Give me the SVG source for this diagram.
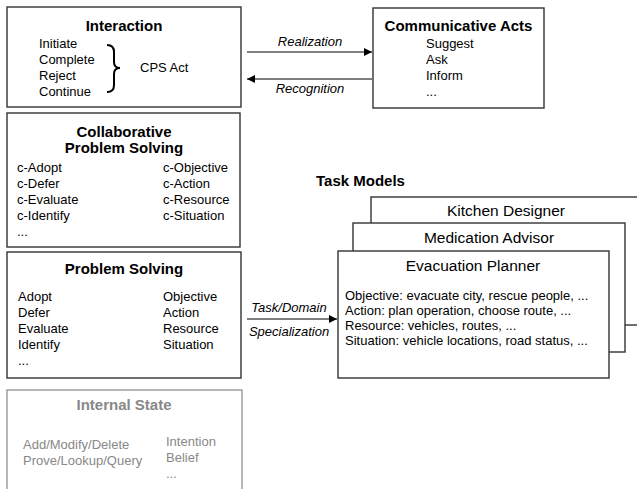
<svg xmlns="http://www.w3.org/2000/svg" width="637" height="489" viewBox="0 0 637 489">
<style>
.box{fill:#fff;stroke:#333;stroke-width:1.4}
.gbox{fill:#fff;stroke:#999;stroke-width:1.4}
.t{font-family:"Liberation Sans",Arial,sans-serif;font-size:13px;fill:#000}
.b{font-family:"Liberation Sans",Arial,sans-serif;font-size:15px;font-weight:bold;fill:#000}
.m{font-family:"Liberation Sans",Arial,sans-serif;font-size:15.5px;fill:#000}
.i{font-family:"Liberation Sans",Arial,sans-serif;font-size:13px;font-style:italic;fill:#000}
.g{fill:#888}
.c{text-anchor:middle}
.ln{stroke:#000;stroke-width:1.2;fill:none}
</style>
<defs>
<marker id="ah" viewBox="0 0 10 10" refX="10" refY="5" markerWidth="10" markerHeight="8" markerUnits="userSpaceOnUse" orient="auto">
<path d="M0,0 L10,5 L0,10 z" fill="#000"/>
</marker>
</defs>
<rect width="637" height="489" fill="#fff"/>

<g id="interaction">
<rect class="box" x="7" y="7" width="234" height="100"/>
<text class="b c" x="124" y="31">Interaction</text>
<text class="t" x="39" y="48">Initiate</text>
<text class="t" x="39" y="64">Complete</text>
<text class="t" x="39" y="80">Reject</text>
<text class="t" x="39" y="96">Continue</text>
<path d="M107,45 Q114,45 114,52 L114,62 Q114,68 120,68 Q114,68 114,74 L114,85 Q114,92 107,92" fill="none" stroke="#000" stroke-width="2"/>
<text class="t" x="140" y="72">CPS Act</text>
</g>

<g id="communicative-acts">
<rect class="box" x="373" y="8" width="171" height="100"/>
<text class="b c" x="458.5" y="31">Communicative Acts</text>
<text class="t" x="426" y="48">Suggest</text>
<text class="t" x="426" y="64">Ask</text>
<text class="t" x="426" y="80">Inform</text>
<text class="t" x="426" y="96">...</text>
</g>

<g id="cps">
<rect class="box" x="7" y="113" width="233" height="134"/>
<text class="b c" x="124" y="137">Collaborative</text>
<text class="b c" x="124" y="153">Problem Solving</text>
<text class="t" x="17" y="172">c-Adopt</text>
<text class="t" x="17" y="188">c-Defer</text>
<text class="t" x="17" y="204">c-Evaluate</text>
<text class="t" x="17" y="220">c-Identify</text>
<text class="t" x="17" y="236">...</text>
<text class="t" x="163" y="172">c-Objective</text>
<text class="t" x="163" y="188">c-Action</text>
<text class="t" x="163" y="204">c-Resource</text>
<text class="t" x="163" y="220">c-Situation</text>
</g>

<g id="problem-solving">
<rect class="box" x="7" y="252" width="234" height="126"/>
<text class="b c" x="124" y="274">Problem Solving</text>
<text class="t" x="18" y="301">Adopt</text>
<text class="t" x="18" y="317">Defer</text>
<text class="t" x="18" y="333">Evaluate</text>
<text class="t" x="18" y="349">Identify</text>
<text class="t" x="18" y="365">...</text>
<text class="t" x="163" y="301">Objective</text>
<text class="t" x="163" y="317">Action</text>
<text class="t" x="163" y="333">Resource</text>
<text class="t" x="163" y="349">Situation</text>
</g>

<g id="internal-state">
<rect class="gbox" x="7" y="390" width="235" height="110"/>
<text class="b c g" x="124" y="410">Internal State</text>
<text class="t g" x="23" y="449">Add/Modify/Delete</text>
<text class="t g" x="23" y="465">Prove/Lookup/Query</text>
<text class="t g" x="166" y="446">Intention</text>
<text class="t g" x="166" y="462">Belief</text>
<text class="t g" x="166" y="478">...</text>
</g>

<g id="task-models">
<text class="b" x="316" y="186">Task Models</text>
</g>

<g id="kitchen-designer">
<rect class="box" x="371" y="197" width="280" height="128"/>
<text class="m c" x="506" y="216">Kitchen Designer</text>
</g>

<g id="medication-advisor">
<rect class="box" x="353" y="223" width="272" height="129"/>
<text class="m c" x="489" y="243">Medication Advisor</text>
</g>

<g id="evacuation-planner">
<rect class="box" x="338" y="251" width="271" height="127"/>
<text class="m c" x="473" y="271">Evacuation Planner</text>
<text class="t" x="345" y="300">Objective: evacuate city, rescue people, ...</text>
<text class="t" x="345" y="315">Action: plan operation, choose route, ...</text>
<text class="t" x="345" y="330">Resource: vehicles, routes, ...</text>
<text class="t" x="345" y="345">Situation: vehicle locations, road status, ...</text>
</g>

<g id="connectors">
<line class="ln" x1="247" y1="52" x2="372" y2="52" marker-end="url(#ah)"/>
<text class="i c" x="310" y="46">Realization</text>
<line class="ln" x1="372" y1="79" x2="247" y2="79" marker-end="url(#ah)"/>
<text class="i c" x="310" y="93">Recognition</text>
<line class="ln" x1="247" y1="319" x2="337" y2="319" marker-end="url(#ah)"/>
<text class="i c" x="289" y="312">Task/Domain</text>
<text class="i c" x="289" y="336">Specialization</text>
</g>
</svg>
